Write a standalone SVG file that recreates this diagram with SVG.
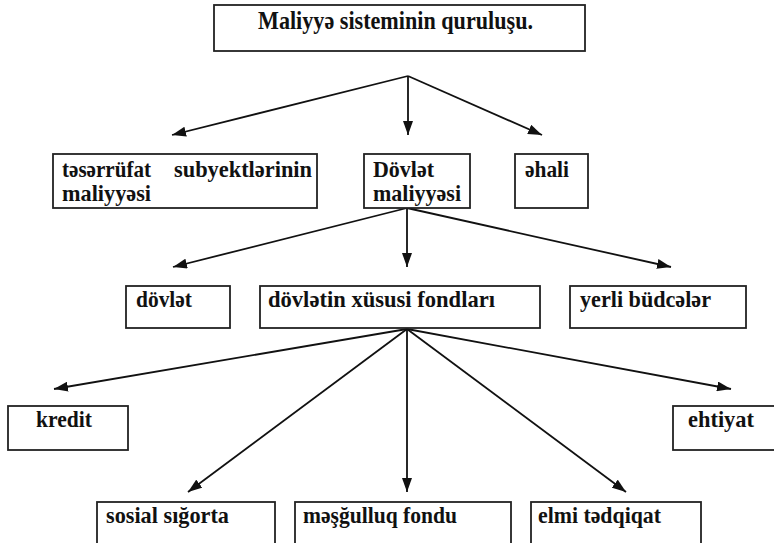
<svg xmlns="http://www.w3.org/2000/svg" width="774" height="543" viewBox="0 0 774 543">
<defs>
<style>
.box{fill:#fff;stroke:#222;stroke-width:1.8}
.t{font-family:"Liberation Serif","Times New Roman",serif;font-weight:bold;font-size:24px;fill:#111}
.title{font-size:25px}
.c{fill:none;stroke:#111;stroke-width:1.8}
</style>
<marker id="ah" markerUnits="userSpaceOnUse" markerWidth="14" markerHeight="10" viewBox="0 0 14 10" refX="14" refY="5" orient="auto">
<path d="M0,0 L14,5 L0,10 z" fill="#111"/>
</marker>
</defs>
<rect width="774" height="543" fill="#fff"/>
<g id="connectors">
<line class="c" x1="408" y1="76" x2="172" y2="135" marker-end="url(#ah)"/>
<line class="c" x1="408" y1="76" x2="408" y2="135" marker-end="url(#ah)"/>
<line class="c" x1="408" y1="76" x2="542" y2="135" marker-end="url(#ah)"/>
<line class="c" x1="407" y1="208" x2="173" y2="267" marker-end="url(#ah)"/>
<line class="c" x1="407" y1="208" x2="407" y2="267" marker-end="url(#ah)"/>
<line class="c" x1="407" y1="208" x2="671" y2="267" marker-end="url(#ah)"/>
<line class="c" x1="407" y1="329" x2="54" y2="389" marker-end="url(#ah)"/>
<line class="c" x1="407" y1="329" x2="188" y2="492" marker-end="url(#ah)"/>
<line class="c" x1="407" y1="329" x2="407" y2="492" marker-end="url(#ah)"/>
<line class="c" x1="407" y1="329" x2="626" y2="492" marker-end="url(#ah)"/>
<line class="c" x1="407" y1="329" x2="731" y2="389" marker-end="url(#ah)"/>
</g>
<g id="root"><rect class="box" x="214" y="5" width="371" height="46"/><text class="t title" x="258" y="29" textLength="275" lengthAdjust="spacingAndGlyphs">Maliyyə sisteminin quruluşu.</text></g>
<g id="tesarrufat"><rect class="box" x="53" y="154" width="264" height="54"/><text class="t" x="62" y="177" textLength="89" lengthAdjust="spacingAndGlyphs">təsərrüfat</text><text class="t" x="174" y="177" textLength="138" lengthAdjust="spacingAndGlyphs">subyektlərinin</text><text class="t" x="62" y="201" textLength="89" lengthAdjust="spacingAndGlyphs">maliyyəsi</text></g>
<g id="dovlet-maliyyesi"><rect class="box" x="364" y="154" width="106" height="54"/><text class="t" x="373" y="177" textLength="61" lengthAdjust="spacingAndGlyphs">Dövlət</text><text class="t" x="373" y="201" textLength="88" lengthAdjust="spacingAndGlyphs">maliyyəsi</text></g>
<g id="ehali"><rect class="box" x="515" y="154" width="73" height="54"/><text class="t" x="525" y="177" textLength="44" lengthAdjust="spacingAndGlyphs">əhali</text></g>
<g id="dovlet"><rect class="box" x="126" y="286" width="104" height="42"/><text class="t" x="136" y="307" textLength="56" lengthAdjust="spacingAndGlyphs">dövlət</text></g>
<g id="xususi"><rect class="box" x="260" y="286" width="280" height="42"/><text class="t" x="268" y="307" textLength="227" lengthAdjust="spacingAndGlyphs">dövlətin xüsusi fondları</text></g>
<g id="yerli"><rect class="box" x="570" y="286" width="176" height="42"/><text class="t" x="580" y="307" textLength="131" lengthAdjust="spacingAndGlyphs">yerli büdcələr</text></g>
<g id="kredit"><rect class="box" x="8" y="406" width="120" height="44"/><text class="t" x="36" y="427" textLength="56" lengthAdjust="spacingAndGlyphs">kredit</text></g>
<g id="ehtiyat"><rect class="box" x="673" y="406" width="104" height="44"/><text class="t" x="688" y="427" textLength="66" lengthAdjust="spacingAndGlyphs">ehtiyat</text></g>
<g id="sosial"><rect class="box" x="97" y="502" width="178" height="50"/><text class="t" x="106" y="523" textLength="123" lengthAdjust="spacingAndGlyphs">sosial sığorta</text></g>
<g id="mesgulluq"><rect class="box" x="295" y="502" width="216" height="50"/><text class="t" x="303" y="523" textLength="154" lengthAdjust="spacingAndGlyphs">məşğulluq fondu</text></g>
<g id="elmi"><rect class="box" x="531" y="502" width="170" height="50"/><text class="t" x="538" y="523" textLength="123" lengthAdjust="spacingAndGlyphs">elmi tədqiqat</text></g>
</svg>
